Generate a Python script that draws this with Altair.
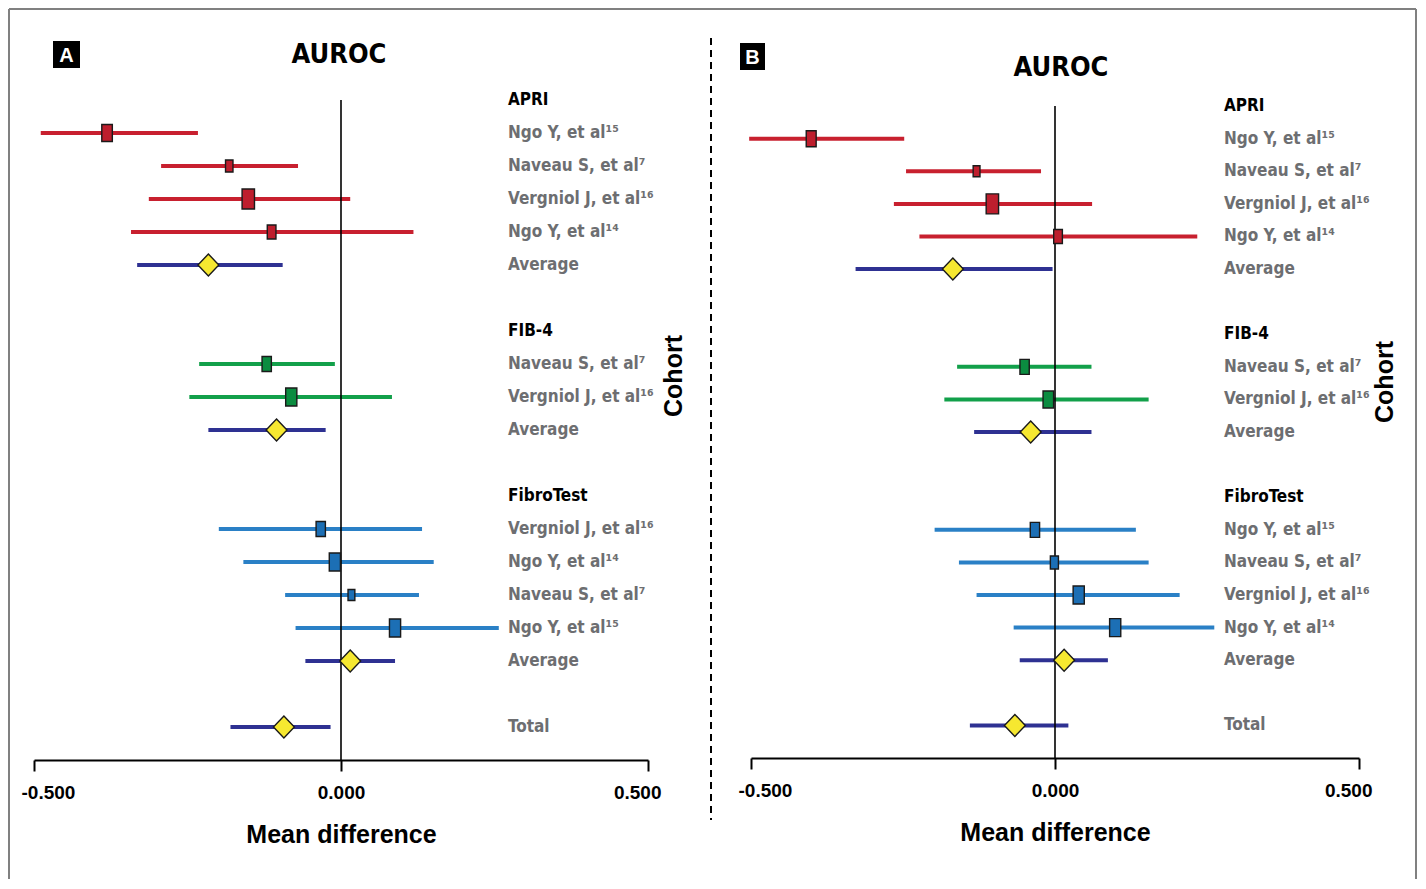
import altair as alt
import pandas as pd

# ---------------- data ----------------
groups = ["APRI"] * 7 + ["FIB-4"] * 5 + ["FibroTest"] * 7 + ["Total"]
kinds = ["head", "study", "study", "study", "study", "avg", "blank",
         "head", "study", "study", "avg", "blank",
         "head", "study", "study", "study", "study", "avg", "blank",
         "avg"]

labels_A = ["APRI", "Ngo Y, et al¹⁵", "Naveau S, et al⁷", "Vergniol J, et al¹⁶", "Ngo Y, et al¹⁴", "Average", "",
            "FIB-4", "Naveau S, et al⁷", "Vergniol J, et al¹⁶", "Average", "",
            "FibroTest", "Vergniol J, et al¹⁶", "Ngo Y, et al¹⁴", "Naveau S, et al⁷", "Ngo Y, et al¹⁵", "Average", "",
            "Total"]
est_A = [None, -0.381, -0.182, -0.151, -0.113, -0.216, None,
         None, -0.121, -0.081, -0.105, None,
         None, -0.033, -0.010, 0.017, 0.088, 0.015, None,
         -0.093]
lo_A = [None, -0.489, -0.293, -0.313, -0.342, -0.332, None,
        None, -0.231, -0.247, -0.216, None,
        None, -0.199, -0.159, -0.091, -0.074, -0.058, None,
        -0.180]
hi_A = [None, -0.233, -0.070, 0.015, 0.118, -0.095, None,
        None, -0.010, 0.083, -0.025, None,
        None, 0.132, 0.151, 0.127, 0.257, 0.088, None,
        -0.017]
weight_A = [None, 17, 12, 20, 14, None, None,
            None, 15, 18, None, None,
            None, 15, 18, 11, 18, None, None,
            None]

labels_B = ["APRI", "Ngo Y, et al¹⁵", "Naveau S, et al⁷", "Vergniol J, et al¹⁶", "Ngo Y, et al¹⁴", "Average", "",
            "FIB-4", "Naveau S, et al⁷", "Vergniol J, et al¹⁶", "Average", "",
            "FibroTest", "Ngo Y, et al¹⁵", "Naveau S, et al⁷", "Vergniol J, et al¹⁶", "Ngo Y, et al¹⁴", "Average", "",
            "Total"]
est_B = [None, -0.401, -0.129, -0.103, 0.005, -0.168, None,
         None, -0.050, -0.011, -0.040, None,
         None, -0.033, -0.001, 0.039, 0.099, 0.015, None,
         -0.066]
lo_B = [None, -0.503, -0.245, -0.265, -0.223, -0.328, None,
        None, -0.161, -0.182, -0.133, None,
        None, -0.198, -0.158, -0.129, -0.068, -0.058, None,
        -0.140]
hi_B = [None, -0.248, -0.023, 0.061, 0.234, -0.004, None,
        None, 0.060, 0.154, 0.060, None,
        None, 0.133, 0.154, 0.205, 0.262, 0.087, None,
        0.022]
weight_B = [None, 16, 11, 20, 14, None, None,
            None, 15, 17, None, None,
            None, 15, 13, 18, 18, None, None,
            None]

tick_values = [-0.5, 0.0, 0.5]

# ---------------- styles ----------------
LBL_FONT = "'Liberation Sans Narrow', 'DejaVu Sans Condensed', sans-serif"
AX_FONT = "'Liberation Sans', Arial, sans-serif"
GRAY = "#6d6e71"
series_domain = ["APRI", "FIB-4", "FibroTest", "Summary"]
line_range = ["#c8202f", "#12a04a", "#2a80c6", "#2e3192"]
fill_range = ["#be1e2d", "#0b8c40", "#1c6fb5", "#2e3192"]

BOX_PATH = "M-0.62,-1L0.62,-1L0.62,1L-0.62,1Z"
DIAMOND_PATH = "M0,-1L0.95,0L0,1L-0.95,0Z"


def make_df(labels, est, lo, hi, weight):
    series = ["Summary" if k == "avg" else g for k, g in zip(kinds, groups)]
    return pd.DataFrame({
        "row": list(range(len(labels))),
        "label": labels,
        "kind": kinds,
        "series": series,
        "est": est,
        "lo": lo,
        "hi": hi,
        "weight": weight,
    })


def panel(df, width, height, ydomain, label_x, letter, letter_box, auroc_xy, cohort_xy, extras):
    xs = alt.Scale(domain=[-0.5, 0.5], nice=False, zero=False)
    ys = alt.Scale(domain=ydomain, reverse=True, nice=False, zero=False)
    xaxis = alt.Axis(
        values=tick_values,
        labelExpr="datum.value < 0 ? '-' + format(-datum.value, '.3f') : format(datum.value, '.3f')",
        labelFont=AX_FONT, labelFontSize=19, labelFontWeight="bold", labelColor="black",
        labelPadding=12, labelFlush=True, labelFlushOffset=13,
        tickSize=11, tickWidth=2, tickColor="black",
        domainColor="black", domainWidth=2, grid=False,
        title="Mean difference", titleFont=AX_FONT, titleFontSize=25, titleFontWeight="bold",
        titleColor="black", titlePadding=20,
    )
    base = alt.Chart(df)
    X = lambda f: alt.X(f, type="quantitative", scale=xs, axis=xaxis)
    Y = lambda f: alt.Y(f, type="quantitative", scale=ys, axis=None)

    ci = base.transform_filter("datum.kind == 'study' || datum.kind == 'avg'").mark_rule(strokeWidth=4).encode(
        x=X("lo"), x2="hi", y=Y("row"),
        color=alt.Color("series:N", scale=alt.Scale(domain=series_domain, range=line_range), legend=None),
    )
    zero = alt.Chart(pd.DataFrame({"z": [0.0], "r0": [0], "r1": [20]})).mark_rule(
        color="black", strokeWidth=1.6).encode(x=X("z"), y=Y("r0"), y2="r1")
    boxes = base.transform_filter("datum.kind == 'study'").mark_point(
        shape=BOX_PATH, filled=True, opacity=1, stroke="#1a1a1a", strokeWidth=1.4).encode(
        x=X("est"), y=Y("row"),
        fill=alt.Fill("series:N", scale=alt.Scale(domain=series_domain, range=fill_range), legend=None),
        size=alt.Size("weight:Q", scale=alt.Scale(type="pow", exponent=2, domain=[0, 20], range=[0, 400]),
                      legend=None),
    )
    diamonds = base.transform_filter("datum.kind == 'avg'").mark_point(
        shape=DIAMOND_PATH, filled=True, opacity=1, fill="#f6e830", stroke="#1a1a1a", strokeWidth=1.4,
        size=484).encode(x=X("est"), y=Y("row"))
    heads = base.transform_filter("datum.kind == 'head'").mark_text(
        font=LBL_FONT, fontSize=17, fontWeight="bold", color="black", align="left", baseline="middle").encode(
        x=alt.value(label_x), y=Y("row"), text="label:N")
    names = base.transform_filter("datum.kind == 'study' || datum.kind == 'avg'").mark_text(
        font=LBL_FONT, fontSize=17, fontWeight="bold", color=GRAY, align="left", baseline="middle").encode(
        x=alt.value(label_x), y=Y("row"), text="label:N")

    one = alt.Chart(pd.DataFrame({"t": [letter]}))
    lbox = one.mark_rect(color="black").encode(
        x=alt.value(letter_box[0]), x2=alt.value(letter_box[1]),
        y=alt.value(letter_box[2]), y2=alt.value(letter_box[3]))
    ltext = one.mark_text(font=AX_FONT, fontSize=20, fontWeight="bold", color="white",
                          align="center", baseline="middle").encode(
        x=alt.value((letter_box[0] + letter_box[1]) / 2), y=alt.value((letter_box[2] + letter_box[3]) / 2 + 1),
        text="t:N")
    auroc = alt.Chart(pd.DataFrame({"t": ["AUROC"]})).mark_text(
        font=LBL_FONT, fontSize=27, fontWeight="bold", color="black", align="center", baseline="middle").encode(
        x=alt.value(auroc_xy[0]), y=alt.value(auroc_xy[1]), text="t:N")
    cohort = alt.Chart(pd.DataFrame({"t": ["Cohort"]})).mark_text(
        font=AX_FONT, fontSize=25, fontWeight="bold", color="black", align="center", baseline="middle",
        angle=270).encode(x=alt.value(cohort_xy[0]), y=alt.value(cohort_xy[1]), text="t:N")

    layers = extras + [ci, zero, boxes, diamonds, heads, names, lbox, ltext, auroc, cohort]
    return alt.layer(*layers).properties(width=width, height=height)


dfA = make_df(labels_A, est_A, lo_A, hi_A, weight_A)
dfB = make_df(labels_B, est_B, lo_B, hi_B, weight_B)

frame = alt.Chart(pd.DataFrame({"k": ["frame"]}))
border_top = frame.mark_rule(color="#808080", strokeWidth=2).encode(
    x=alt.value(-25), x2=alt.value(1382), y=alt.value(-58))
border_left = frame.mark_rule(color="#808080", strokeWidth=2).encode(
    x=alt.value(-25), y=alt.value(-58), y2=alt.value(812))
border_right = frame.mark_rule(color="#808080", strokeWidth=2).encode(
    x=alt.value(1382), y=alt.value(-58), y2=alt.value(812))
divider = frame.mark_rule(color="black", strokeWidth=2, strokeDash=[7, 5]).encode(
    x=alt.value(677), y=alt.value(-29), y2=alt.value(753))

panelA = panel(dfA, 614, 693, [-1, 20], 474, "A", (19, 46, -26, 1), (305, -12), (640, 309),
               [border_top, border_left, border_right, divider])
panelB = panel(dfB, 608, 691, [-1.2, 20], 473, "B", (-11, 14, -24, 3), (310, 1), (634, 315), [])

chart = alt.hconcat(panelA, panelB, spacing=103, bounds="flush", padding=0).configure_view(stroke=None)

chart.save("out.html", embed_options={"renderer": "svg", "actions": False})
